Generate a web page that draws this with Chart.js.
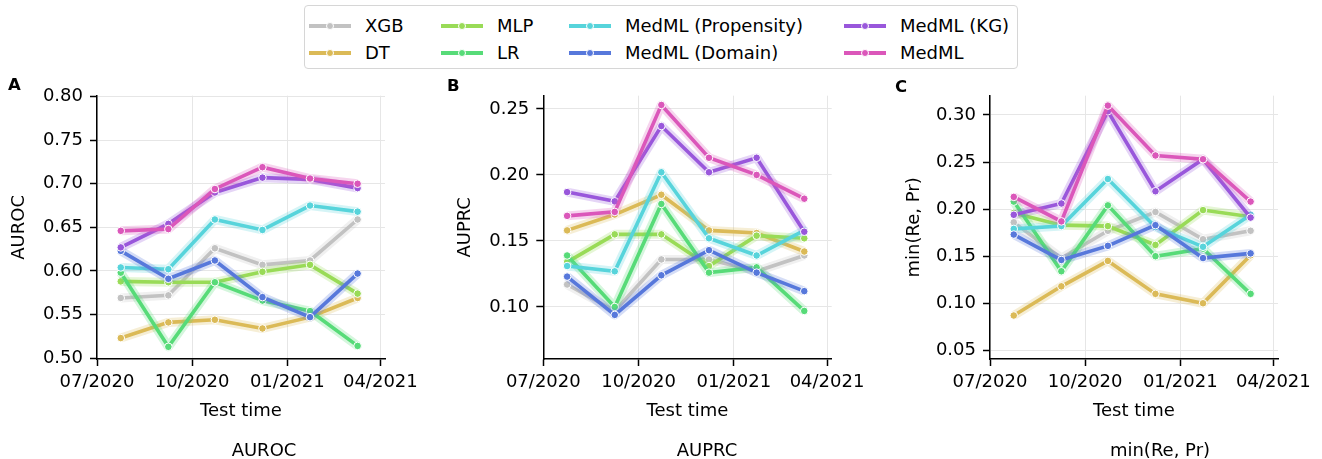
<!DOCTYPE html>
<html>
<head>
<meta charset="utf-8">
<script src="https://cdn.jsdelivr.net/npm/chart.js@4.4.1/dist/chart.umd.min.js"></script>
<style>
  body { margin: 0; width: 1322px; height: 459px; background: #fff; position: relative; overflow: hidden;
         font-family: 'DejaVu Sans', sans-serif; color: #000; }
  canvas.panel { position: absolute; top: 0; }
  .letter { position: absolute; font-weight: bold; font-size: 16.5px; line-height: 16px; }
  .sub { position: absolute; font-size: 18px; line-height: 22px; transform: translateX(-50%); white-space: nowrap; }
  #legend { position: absolute; left: 304px; top: 5px; width: 712px; height: 62px;
            border: 1.5px solid #d6d6d6; border-radius: 4px; }
  .lg-line { position: absolute; width: 42px; height: 3.5px; }
  .lg-dot { position: absolute; width: 6px; height: 6px; border-radius: 50%; border: 1px solid #fff; }
  .lg-text { position: absolute; font-size: 18px; line-height: 22px; white-space: nowrap; }
</style>
</head>
<body>
<div id="legend"></div>
<canvas id="chartAuroc" class="panel" width="440" height="459" style="left:0px"></canvas>
<canvas id="chartAuprc" class="panel" width="440" height="459" style="left:440px"></canvas>
<canvas id="chartMinRePr" class="panel" width="442" height="459" style="left:880px"></canvas>
<div class="letter" style="left:8px;top:77px">A</div>
<div class="letter" style="left:447px;top:78px">B</div>
<div class="letter" style="left:895px;top:79px">C</div>
<div class="sub" style="left:264px;top:439px">AUROC</div>
<div class="sub" style="left:707px;top:439px">AUPRC</div>
<div class="sub" style="left:1160px;top:439px">min(Re, Pr)</div>
<script>
// test windows (mid-points) and the models compared
const testDates = ['2020-07-24', '2020-09-08', '2020-10-23', '2020-12-08', '2021-01-23', '2021-03-10'];
const models = ['XGB', 'DT', 'MLP', 'LR', 'MedML (Propensity)', 'MedML (Domain)', 'MedML (KG)', 'MedML'];
const modelColors = ['#c2c2c2', '#dbba57', '#99db57', '#57db78', '#57d4db', '#5778db', '#9957db', '#db57ba'];

// one row per model, same order as `models`
const aurocValues = [
  [0.569, 0.572, 0.626, 0.607, 0.612, 0.659],
  [0.523, 0.541, 0.544, 0.534, 0.547, 0.569],
  [0.588, 0.587, 0.587, 0.599, 0.607, 0.574],
  [0.598, 0.513, 0.587, 0.566, 0.554, 0.514],
  [0.604, 0.602, 0.659, 0.647, 0.675, 0.668],
  [0.623, 0.591, 0.612, 0.570, 0.547, 0.597],
  [0.627, 0.654, 0.690, 0.707, 0.705, 0.695],
  [0.646, 0.648, 0.694, 0.719, 0.706, 0.700]
];
const auprcValues = [
  [0.117, 0.097, 0.136, 0.136, 0.127, 0.139],
  [0.158, 0.170, 0.185, 0.158, 0.156, 0.142],
  [0.134, 0.155, 0.155, 0.131, 0.154, 0.152],
  [0.139, 0.100, 0.178, 0.126, 0.130, 0.097],
  [0.131, 0.127, 0.202, 0.152, 0.139, 0.158],
  [0.123, 0.094, 0.124, 0.143, 0.126, 0.112],
  [0.187, 0.180, 0.237, 0.202, 0.213, 0.157],
  [0.169, 0.172, 0.253, 0.213, 0.200, 0.182]
];
const minRePrValues = [
  [0.186, 0.148, 0.177, 0.197, 0.168, 0.177],
  [0.087, 0.118, 0.145, 0.110, 0.100, 0.151],
  [0.196, 0.183, 0.182, 0.162, 0.199, 0.192],
  [0.208, 0.134, 0.204, 0.150, 0.158, 0.110],
  [0.179, 0.182, 0.232, 0.181, 0.160, 0.194],
  [0.173, 0.146, 0.161, 0.183, 0.148, 0.153],
  [0.194, 0.206, 0.304, 0.219, 0.253, 0.191],
  [0.213, 0.187, 0.310, 0.257, 0.253, 0.208]
];

// axis ticks
const xTickDates = ['2020-07-01', '2020-10-01', '2021-01-01', '2021-04-01'];
const aurocTicks = [0.50, 0.55, 0.60, 0.65, 0.70, 0.75, 0.80];
const auprcTicks = [0.10, 0.15, 0.20, 0.25];
const minRePrTicks = [0.05, 0.10, 0.15, 0.20, 0.25, 0.30];

Chart.defaults.font.family = "'DejaVu Sans', sans-serif";
Chart.defaults.font.size = 18;
Chart.defaults.color = '#000';

const DAY = 864e5;
const xs = testDates.map(d => Date.parse(d));
const xTicks = xTickDates.map(d => Date.parse(d));

function fmtMonth(v) {
  const d = new Date(v);
  const m = String(d.getUTCMonth() + 1).padStart(2, '0');
  return m + '/' + d.getUTCFullYear();
}

function withAlpha(hex, a) {
  const n = parseInt(hex.slice(1), 16);
  return `rgba(${(n >> 16) & 255}, ${(n >> 8) & 255}, ${n & 255}, ${a})`;
}

// legend (two rows, four columns)
const legend = document.getElementById('legend');
const colX = [4, 136, 264, 539];
const rowY = [20, 47];
models.forEach((name, i) => {
  const c = Math.floor(i / 2), r = i % 2;
  const line = document.createElement('div');
  line.className = 'lg-line';
  line.style.left = colX[c] + 'px';
  line.style.top = (rowY[r] - 1.75) + 'px';
  line.style.background = modelColors[i];
  legend.appendChild(line);
  const dot = document.createElement('div');
  dot.className = 'lg-dot';
  dot.style.left = (colX[c] + 21 - 4) + 'px';
  dot.style.top = (rowY[r] - 4) + 'px';
  dot.style.background = modelColors[i];
  legend.appendChild(dot);
  const txt = document.createElement('div');
  txt.className = 'lg-text';
  txt.style.left = (colX[c] + 56) + 'px';
  txt.style.top = (rowY[r] - 11) + 'px';
  txt.textContent = name;
  legend.appendChild(txt);
});

function makePanel(id, values, yTicks, yMin, yMax, yTitle, yWidth, rightPad, titlePad) {
  const datasets = [];
  values.forEach((row, i) => {
    const pts = row.map((v, k) => ({ x: xs[k], y: v }));
    // shaded band behind the line
    datasets.push({
      label: models[i] + ' band',
      data: pts,
      borderColor: withAlpha(modelColors[i], 0.25),
      borderWidth: 9,
      borderJoinStyle: 'round',
      pointRadius: 0,
      order: 2 * (models.length - 1 - i) + 1
    });
    datasets.push({
      label: models[i],
      data: pts,
      borderColor: modelColors[i],
      borderWidth: 3.6,
      pointRadius: 3.8,
      pointBorderWidth: 1,
      pointBorderColor: '#fff',
      pointBackgroundColor: modelColors[i],
      order: 2 * (models.length - 1 - i)
    });
  });

  new Chart(document.getElementById(id), {
    type: 'line',
    data: { datasets },
    options: {
      responsive: false,
      animation: false,
      layout: { padding: { top: 95.7, right: rightPad, left: 0, bottom: 0 } },
      plugins: { legend: { display: false }, tooltip: { enabled: false } },
      scales: {
        x: {
          type: 'linear',
          min: xTicks[0],
          max: xTicks[xTicks.length - 1] + 4.5 * DAY,
          afterBuildTicks: s => { s.ticks = xTicks.map(v => ({ value: v })); },
          afterFit: s => { s.height = 100; },
          ticks: { callback: v => fmtMonth(v), autoSkip: false, maxRotation: 0, padding: 6 },
          grid: { color: '#e6e6e6', lineWidth: 1, tickColor: '#000', tickLength: 7, tickWidth: 1.5 },
          border: { color: '#000', width: 1.5 },
          title: { display: true, text: 'Test time', padding: { top: 0, bottom: 37 } }
        },
        y: {
          min: yMin,
          max: yMax,
          afterBuildTicks: s => { s.ticks = yTicks.map(v => ({ value: v })); },
          afterFit: s => { s.width = yWidth; },
          ticks: { callback: v => v.toFixed(2), padding: 7 },
          grid: { color: '#e6e6e6', lineWidth: 1, tickColor: '#000', tickLength: 7, tickWidth: 1.5 },
          border: { color: '#000', width: 1.5 },
          title: { display: true, text: yTitle, padding: { top: titlePad, bottom: 0 } }
        }
      }
    }
  });
}

makePanel('chartAuroc', aurocValues, aurocTicks, 0.499, 0.801, 'AUROC', 97, 55, 9);
makePanel('chartAuprc', auprcValues, auprcTicks, 0.0606, 0.260, 'AUPRC', 103.3, 48.3, 15);
makePanel('chartMinRePr', minRePrValues, minRePrTicks, 0.0408, 0.3205, 'min(Re, Pr)', 110, 44, 23.7);
</script>
</body>
</html>
